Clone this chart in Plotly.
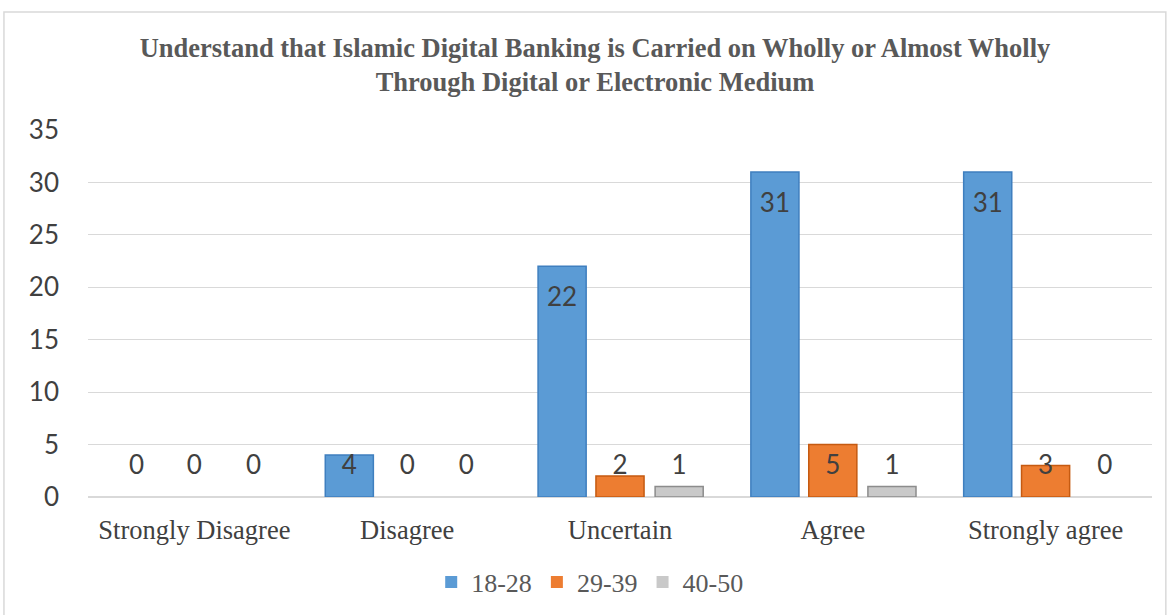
import plotly.graph_objects as go

categories = ["Strongly Disagree", "Disagree", "Uncertain", "Agree", "Strongly agree"]
series_names = ["18-28", "29-39", "40-50"]
age_18_28 = [0, 4, 22, 31, 31]
age_29_39 = [0, 0, 2, 5, 3]
age_40_50 = [0, 0, 1, 1, 0]
y_ticks = [0, 5, 10, 15, 20, 25, 30, 35]

colors = ["#5B9BD5", "#ED7D31", "#C9C9C9"]
edges = ["#3F7FBF", "#C55A11", "#8C8C8C"]
offsets = [-0.272, 0.0, 0.278]
bar_w = 0.226

SANS = "Lato, Noto Sans, sans-serif"
SERIF = "Liberation Serif, Times New Roman, serif"

fig = go.Figure()
pos = list(range(len(categories)))
for name, vals, col, edge, off in zip(series_names, [age_18_28, age_29_39, age_40_50],
                                      colors, edges, offsets):
    xs = [p + off for p in pos]
    fig.add_trace(go.Bar(
        x=xs, y=vals, name=name, width=bar_w,
        # no outline on empty bars, like Excel
        marker=dict(color=col, line=dict(color=edge, width=[1.5 if v else 0 for v in vals])),
        hoverinfo="y",
    ))
    # data labels: inside end, clamped near the baseline for short bars
    fig.add_trace(go.Scatter(
        x=xs, y=[max(v - 3.2, 2.85) for v in vals],
        mode="text", text=[str(v) for v in vals],
        textfont=dict(family=SANS, size=26, color="#404040"),
        showlegend=False, hoverinfo="skip",
    ))

fig.update_layout(
    width=1168, height=615,
    barmode="overlay",
    paper_bgcolor="white", plot_bgcolor="white",
    margin=dict(l=88, r=16, t=130, b=118, autoexpand=False),
    title=dict(
        text="<b>Understand that Islamic Digital Banking is Carried on Wholly or Almost Wholly<br>"
             "Through Digital or Electronic Medium</b>",
        x=0.4765, xanchor="center", xref="paper",
        y=1 - 56.5 / 615, yanchor="middle", yref="container",
        font=dict(family=SERIF, size=26.5, color="#595959"),
    ),
    xaxis=dict(
        range=[-0.5, 4.5], tickmode="array", tickvals=pos, ticktext=categories,
        showgrid=False, zeroline=False, showline=False, ticks="",
        ticklabelstandoff=14, automargin=False,
        tickfont=dict(family=SERIF, size=26.5, color="#404040"),
    ),
    yaxis=dict(
        range=[0, 35], tickmode="array", tickvals=y_ticks,
        showgrid=True, gridcolor="#D9D9D9", gridwidth=1.3,
        zeroline=True, zerolinecolor="#D9D9D9", zerolinewidth=1.5,
        showline=False, ticks="", ticklabelstandoff=28, automargin=False,
        tickfont=dict(family=SANS, size=26, color="#404040"),
    ),
    legend=dict(
        orientation="h", x=0.472, xanchor="center", xref="paper",
        y=1 - 582 / 615, yanchor="middle", yref="container",
        font=dict(family=SERIF, size=26, color="#595959"),
        itemwidth=30, traceorder="normal",
    ),
    shapes=[dict(
        type="rect", xref="paper", yref="paper",
        x0=-0.079, x1=1.013, y0=-0.33, y1=1.3215,
        line=dict(color="#D9D9D9", width=1.5), fillcolor="rgba(0,0,0,0)", layer="below",
    )],
)

fig.write_html("out.html", config={"displayModeBar": False},
               post_script="document.body.style.margin='0px';")
